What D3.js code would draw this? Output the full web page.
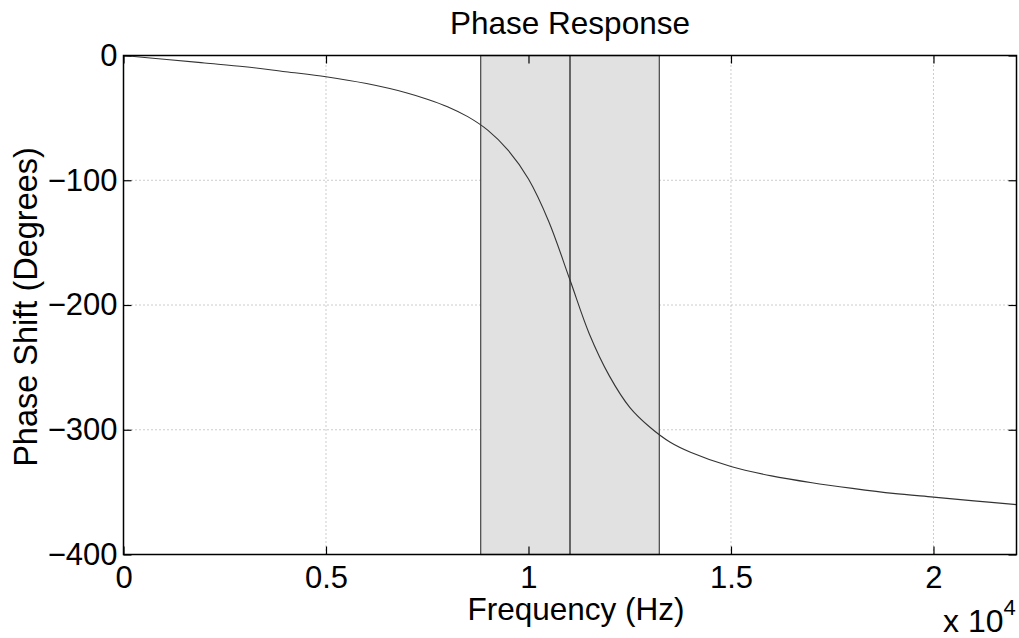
<!DOCTYPE html>
<html>
<head>
<meta charset="utf-8">
<script src="https://cdn.jsdelivr.net/npm/d3@7"></script>
<style>
  body { margin: 0; background: #fff; }
  svg text { font-family: "Liberation Sans", Arial, Helvetica, sans-serif; fill: #000; }
</style>
</head>
<body>
<div id="chart"></div>
<script>
// phase curve (Hz, degrees)
const freqs  = [0, 1000, 2000, 3000, 4000, 5000, 6000, 7000, 7500, 8000, 8500, 9000, 9500, 10000, 10500,
                11025, 11500, 12000, 12500, 13000, 13500, 14000, 15000, 16000, 17000, 18000, 19000, 20000, 21000, 22050];
const phases = [0, -3, -6, -9, -13, -17, -22.5, -30, -35, -41, -49, -60, -76, -99, -133,
                -180, -223, -257, -282, -298, -310, -318, -329.5, -337, -342.5, -347, -351, -354, -357, -360];

// shaded band and centre frequency
const bandLo = 8820, bandHi = 13230, centre = 11025;

const xTicks = [0, 5000, 10000, 15000, 20000];
const xTickLabels = ['0', '0.5', '1', '1.5', '2'];
const yTicks = [0, -100, -200, -300, -400];
const yTickLabels = ['0', '\u2212100', '\u2212200', '\u2212300', '\u2212400'];

const width = 1019, height = 638;
const margin = { top: 55.5, right: 2.5, bottom: 83.5, left: 123.5 };

const svg = d3.select('#chart').append('svg')
    .attr('width', width)
    .attr('height', height);

const x = d3.scaleLinear().domain([0, 22050]).range([margin.left, width - margin.right]);
const y = d3.scaleLinear().domain([-400, 0]).range([height - margin.bottom, margin.top]);

const pts = freqs.map((f, i) => ({ f: f, p: phases[i] }));

// grid
const grid = svg.append('g');
grid.selectAll('.gx').data(xTicks.slice(1)).enter().append('line')
    .attr('x1', d => x(d)).attr('x2', d => x(d))
    .attr('y1', y(-400)).attr('y2', y(0))
    .attr('stroke', '#999').attr('stroke-dasharray', '1,3');
grid.selectAll('.gy').data(yTicks.slice(1, -1)).enter().append('line')
    .attr('x1', x(0)).attr('x2', x(22050))
    .attr('y1', d => y(d)).attr('y2', d => y(d))
    .attr('stroke', '#999').attr('stroke-dasharray', '1,3');

// band
svg.append('rect')
    .attr('x', x(bandLo)).attr('y', y(0))
    .attr('width', x(bandHi) - x(bandLo)).attr('height', y(-400) - y(0))
    .attr('fill', '#e1e1e1').attr('stroke', '#444').attr('stroke-width', 1.2);
svg.append('line')
    .attr('x1', x(centre)).attr('x2', x(centre))
    .attr('y1', y(0)).attr('y2', y(-400))
    .attr('stroke', '#000').attr('stroke-width', 1.1);

// curve
const line = d3.line().x(d => x(d.f)).y(d => y(d.p)).curve(d3.curveCatmullRom.alpha(0.5));
svg.append('path').datum(pts)
    .attr('d', line)
    .attr('fill', 'none').attr('stroke', '#333').attr('stroke-width', 1.1);

// axes (MATLAB style box with inward ticks)
const tl = 8;
svg.append('g').attr('transform', `translate(0,${y(-400)})`)
    .call(d3.axisBottom(x).tickValues(xTicks).tickSize(-tl).tickFormat((d, i) => xTickLabels[i]).tickPadding(11))
    .call(g => g.select('.domain').remove());
svg.append('g').attr('transform', `translate(0,${y(0)})`)
    .call(d3.axisTop(x).tickValues(xTicks).tickSize(-tl).tickFormat(''))
    .call(g => g.select('.domain').remove());
svg.append('g').attr('transform', `translate(${x(0)},0)`)
    .call(d3.axisLeft(y).tickValues(yTicks).tickSize(-tl).tickFormat((d, i) => yTickLabels[i]).tickPadding(6))
    .call(g => g.select('.domain').remove());
svg.append('g').attr('transform', `translate(${x(22050)},0)`)
    .call(d3.axisRight(y).tickValues(yTicks).tickSize(-tl).tickFormat(''))
    .call(g => g.select('.domain').remove());

svg.selectAll('.tick line').attr('stroke', '#000').attr('stroke-width', 1.2);
svg.selectAll('.tick text').attr('font-size', 31).attr('font-family', '"Liberation Sans", Arial, sans-serif');

svg.append('rect')
    .attr('x', x(0)).attr('y', y(0))
    .attr('width', x(22050) - x(0)).attr('height', y(-400) - y(0))
    .attr('fill', 'none').attr('stroke', '#000').attr('stroke-width', 1.5);

// texts
svg.append('text').attr('x', 570).attr('y', 34).attr('text-anchor', 'middle')
    .attr('font-size', 31.5).text('Phase Response');
svg.append('text').attr('x', 576).attr('y', 620).attr('text-anchor', 'middle')
    .attr('font-size', 31.5).text('Frequency (Hz)');
svg.append('text').attr('transform', 'translate(37,307) rotate(-90)').attr('text-anchor', 'middle')
    .attr('font-size', 32.5).text('Phase Shift (Degrees)');
const ex = svg.append('text').attr('x', 943).attr('y', 632).attr('font-size', 32);
ex.append('tspan').text('x 10');
ex.append('tspan').attr('font-size', 22).attr('dy', -17).text('4');
</script>
</body>
</html>
